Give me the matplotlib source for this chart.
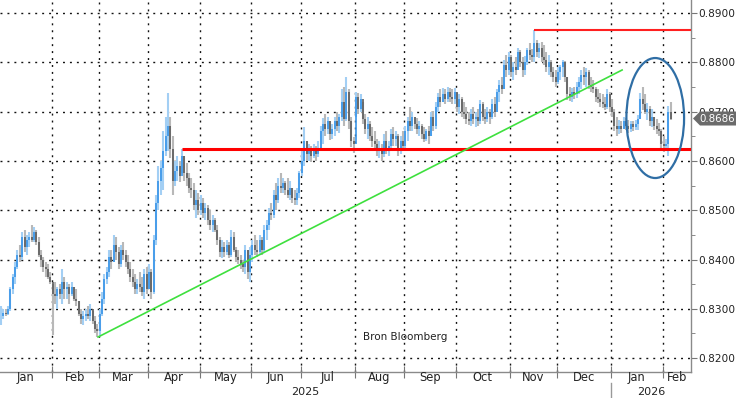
import numpy as np
import matplotlib
matplotlib.use("Agg")
import matplotlib.pyplot as plt
from matplotlib.patches import Ellipse, Polygon
from matplotlib.transforms import blended_transform_factory

# ---------------- data (daily bars) ----------------
month_labels = ["Jan", "Feb", "Mar", "Apr", "May", "Jun", "Jul", "Aug",
                "Sep", "Oct", "Nov", "Dec", "Jan", "Feb"]
year_labels = ["2025", "2026"]

high_by_month = [
    [.8305,.8300,.8300,.8305,.8345,.8370,.8395,.8420,.8430,.8455,.8460,.8450,.8455,.8470,.8465,.8460,.8445,.8420,.8405,.8395,.8390,.8375],
    [.8350,.8355,.8345,.8350,.8380,.8365,.8355,.8350,.8355,.8345,.8340,.8315,.8300,.8295,.8300,.8305,.8310,.8295,.8285,.8270],
    [.8300,.8335,.8370,.8385,.8420,.8420,.8450,.8445,.8425,.8430,.8435,.8420,.8410,.8395,.8380,.8370,.8360,.8375,.8365,.8380,.8385],
    [.8390,.8380,.8450,.8530,.8590,.8600,.8660,.8690,.8738,.8690,.8650,.8600,.8610,.8600,.8625,.8610,.8595,.8575,.8565,.8555,.8540,.8535],
    [.8530,.8525,.8515,.8510,.8500,.8490,.8485,.8470,.8445,.8440,.8435,.8440,.8435,.8460,.8455,.8425,.8420,.8410,.8400,.8430,.8420,.8425],
    [.8440,.8450,.8440,.8450,.8445,.8470,.8480,.8505,.8515,.8540,.8555,.8565,.8575,.8565,.8560,.8565,.8560,.8545,.8540,.8545,.8580],
    [.8620,.8668,.8640,.8635,.8630,.8635,.8630,.8640,.8670,.8688,.8695,.8690,.8680,.8675,.8690,.8700,.8695,.8745,.8750,.8770,.8745,.8690,.8648],
    [.8740,.8738,.8735,.8720,.8695,.8690,.8680,.8668,.8660,.8645,.8640,.8635,.8655,.8660,.8640,.8665,.8668,.8660,.8655,.8650,.8660],
    [.8670,.8690,.8710,.8700,.8690,.8687,.8680,.8675,.8668,.8665,.8670,.8700,.8702,.8720,.8737,.8745,.8748,.8745,.8750,.8748,.8745,.8748],
    [.8737,.8735,.8730,.8720,.8710,.8700,.8705,.8710,.8700,.8705,.8724,.8720,.8705,.8710,.8705,.8725,.8730,.8745,.8765,.8770,.8805,.8815,.8820],
    [.8815,.8800,.8810,.8830,.8825,.8810,.8812,.8830,.8840,.8828,.8866,.8845,.8840,.8842,.8835,.8820,.8815,.8805,.8790,.8785],
    [.8790,.8795,.8805,.8802,.8770,.8750,.8748,.8750,.8760,.8770,.8785,.8790,.8788,.8785,.8770,.8765,.8750,.8745,.8737,.8735,.8730,.8745,.8740],
    [.8725,.8705,.8690,.8683,.8680,.8690,.8688,.8683,.8680,.8680,.8682,.8693,.8737,.8750,.8735,.8717,.8712,.8705,.8690,.8685,.8677,.8665],
    [.8650,.8645,.8712,.8720],
]
low_by_month = [
    [.8268,.8280,.8285,.8288,.8295,.8330,.8350,.8380,.8395,.8400,.8415,.8410,.8425,.8435,.8435,.8430,.8405,.8385,.8375,.8365,.8360,.8350],
    [.8247,.8310,.8300,.8320,.8310,.8320,.8320,.8310,.8325,.8315,.8305,.8285,.8270,.8268,.8275,.8280,.8275,.8270,.8250,.8243],
    [.8245,.8285,.8310,.8350,.8365,.8380,.8395,.8400,.8380,.8385,.8400,.8385,.8370,.8355,.8345,.8330,.8330,.8335,.8325,.8320,.8330],
    [.8340,.8320,.8330,.8430,.8500,.8530,.8540,.8610,.8620,.8605,.8530,.8550,.8560,.8557,.8575,.8560,.8550,.8535,.8525,.8500,.8485,.8490],
    [.8490,.8485,.8480,.8470,.8460,.8455,.8455,.8430,.8405,.8403,.8405,.8410,.8403,.8405,.8415,.8395,.8390,.8380,.8375,.8370,.8360,.8355],
    [.8395,.8410,.8405,.8410,.8410,.8415,.8440,.8460,.8480,.8485,.8500,.8515,.8535,.8535,.8530,.8525,.8520,.8515,.8510,.8510,.8525],
    [.8570,.8590,.8600,.8600,.8598,.8605,.8600,.8608,.8620,.8635,.8650,.8655,.8642,.8645,.8650,.8660,.8657,.8680,.8670,.8680,.8665,.8628,.8616],
    [.8690,.8695,.8700,.8675,.8655,.8645,.8640,.8628,.8620,.8610,.8605,.8600,.8608,.8615,.8610,.8625,.8630,.8630,.8610,.8615,.8620],
    [.8625,.8640,.8660,.8660,.8665,.8655,.8650,.8645,.8638,.8640,.8635,.8650,.8660,.8665,.8700,.8710,.8720,.8715,.8720,.8720,.8715,.8715],
    [.8700,.8695,.8690,.8685,.8675,.8672,.8670,.8675,.8668,.8670,.8675,.8680,.8675,.8678,.8675,.8685,.8690,.8700,.8720,.8735,.8745,.8770,.8775],
    [.8770,.8765,.8775,.8785,.8790,.8770,.8775,.8795,.8805,.8800,.8800,.8810,.8808,.8800,.8795,.8780,.8775,.8770,.8760,.8750],
    [.8757,.8765,.8770,.8760,.8723,.8722,.8720,.8725,.8728,.8735,.8745,.8755,.8750,.8745,.8740,.8737,.8720,.8717,.8710,.8708,.8703,.8705,.8700],
    [.8690,.8660,.8650,.8655,.8657,.8665,.8662,.8657,.8658,.8660,.8662,.8662,.8685,.8703,.8695,.8683,.8670,.8668,.8662,.8655,.8650,.8625],
    [.8618,.8620,.8610,.8683],
]
close_by_month = [
    [.8285,.8292,.8290,.8300,.8340,.8365,.8385,.8410,.8405,.8445,.8425,.8440,.8445,.8440,.8455,.8435,.8410,.8400,.8385,.8380,.8365,.8355],
    [.8330,.8325,.8340,.8330,.8355,.8340,.8345,.8330,.8345,.8320,.8315,.8290,.8280,.8285,.8290,.8285,.8300,.8275,.8260,.8255],
    [.8290,.8320,.8360,.8375,.8405,.8395,.8430,.8415,.8390,.8420,.8410,.8395,.8380,.8365,.8355,.8340,.8350,.8345,.8335,.8370,.8340],
    [.8375,.8335,.8440,.8515,.8560,.8585,.8620,.8650,.8670,.8625,.8560,.8580,.8590,.8570,.8610,.8575,.8565,.8545,.8540,.8510,.8520,.8500],
    [.8515,.8495,.8505,.8480,.8470,.8480,.8460,.8440,.8415,.8425,.8415,.8430,.8410,.8445,.8420,.8405,.8400,.8390,.8385,.8420,.8375,.8410],
    [.8430,.8420,.8415,.8440,.8420,.8460,.8470,.8495,.8490,.8530,.8520,.8550,.8545,.8555,.8540,.8530,.8545,.8525,.8520,.8535,.8575],
    [.8600,.8640,.8615,.8620,.8610,.8625,.8615,.8620,.8660,.8675,.8665,.8680,.8655,.8665,.8680,.8670,.8690,.8720,.8685,.8740,.8680,.8640,.8635],
    [.8730,.8705,.8725,.8685,.8665,.8675,.8650,.8640,.8635,.8620,.8625,.8615,.8640,.8625,.8630,.8655,.8645,.8650,.8620,.8640,.8630],
    [.8660,.8680,.8670,.8690,.8675,.8665,.8670,.8655,.8645,.8660,.8650,.8690,.8670,.8710,.8730,.8720,.8735,.8725,.8740,.8730,.8725,.8740],
    [.8710,.8725,.8700,.8695,.8685,.8680,.8695,.8685,.8690,.8680,.8715,.8690,.8685,.8700,.8690,.8715,.8700,.8740,.8755,.8745,.8795,.8785,.8810],
    [.8780,.8790,.8785,.8820,.8800,.8785,.8800,.8825,.8815,.8810,.8840,.8820,.8830,.8810,.8805,.8790,.8800,.8780,.8770,.8760],
    [.8780,.8790,.8800,.8770,.8735,.8730,.8740,.8735,.8750,.8760,.8775,.8770,.8780,.8755,.8750,.8745,.8730,.8725,.8720,.8715,.8710,.8735,.8710],
    [.8700,.8670,.8665,.8670,.8665,.8680,.8670,.8665,.8675,.8668,.8675,.8685,.8725,.8715,.8700,.8705,.8680,.8690,.8670,.8665,.8660,.8635],
    [.8630,.8635,.8700,.8686],
]

last_price = 0.8686
support_level = 0.8625
resistance_level = 0.88655
trend_start = (41.3, 0.82428)
trend_end = (264.3, 0.87844)
source_text = "Bron Bloomberg"

# ---------------- assemble ----------------
high, low, close, month_start = [], [], [], []
for h, l, c in zip(high_by_month, low_by_month, close_by_month):
    n = min(len(h), len(l), len(c))
    month_start.append(len(close))
    high += h[:n]; low += l[:n]; close += c[:n]
high = np.array(high); low = np.array(low); close = np.array(close)
n = len(close)
x = np.arange(n)
open_ = np.concatenate([[close[0]], close[:-1]])
up = close >= open_

# ---------------- figure ----------------
W, H = 736, 398
fig = plt.figure(figsize=(W / 100, H / 100), dpi=100)
ax_bottom_px = 372
ax_right_px = 691
ax = fig.add_axes([0, 1 - ax_bottom_px / H, ax_right_px / W, ax_bottom_px / H])

px_per_bar = 2.35
xmin = -1 / px_per_bar
xmax = xmin + ax_right_px / px_per_bar
ymax = 0.89264
ymin = ymax - ax_bottom_px / 4930
ax.set_xlim(xmin, xmax)
ax.set_ylim(ymin, ymax)

dot = (0, (1.4, 3.6))
bounds = [s - 0.5 for s in month_start[1:]]
for yv in np.arange(0.82, 0.8901, 0.01):
    ax.axhline(yv, color="#111111", lw=1.0, ls=dot, zorder=0.5)
for b in bounds:
    ax.axvline(b, color="#111111", lw=1.0, ls=dot, zorder=0.5)

# candles
for mask, wick_c, body_c in [(up, "#a3cff4", "#3995e8"), (~up, "#b8b8b8", "#5c5c5c")]:
    ax.vlines(x[mask], low[mask], high[mask], color=wick_c, lw=1.5, zorder=2)
    ax.vlines(x[mask], np.minimum(open_, close)[mask], np.maximum(open_, close)[mask],
              color=body_c, lw=1.2, zorder=2.1)

# annotation lines
ax.hlines(support_level, 77, xmax, color="#ff0000", lw=2.2, zorder=3)
ax.hlines(resistance_level, 227, xmax, color="#ff2020", lw=1.5, zorder=3)
ax.plot([trend_start[0], trend_end[0]], [trend_start[1], trend_end[1]],
        color="#3ee03e", lw=1.2, zorder=3)
ax.add_patch(Ellipse((278.4, 0.8687), 24.55, 0.02434, fill=False,
                     ec="#2f6ea5", lw=1.6, zorder=4))

ax.text(171.9, 0.8243, source_text, ha="center", va="center",
        fontsize=7.5, color="#222222", zorder=5)

# spines
for s in ["left", "top"]:
    ax.spines[s].set_visible(False)
for s in ["right", "bottom"]:
    ax.spines[s].set_color("#8a8a8a")
    ax.spines[s].set_linewidth(1.0)

# y axis (right)
ax.yaxis.tick_right()
ax.set_yticks(np.arange(0.82, 0.8901, 0.01))
ax.set_yticks(np.arange(0.825, 0.8901, 0.01), minor=True)
ax.set_yticklabels([f"{v:.4f}" for v in np.arange(0.82, 0.8901, 0.01)])
ax.tick_params(axis="y", which="major", length=4, color="#777777", labelsize=7.6,
               labelcolor="#222222", pad=1.5)
ax.tick_params(axis="y", which="minor", length=3, color="#777777")

# x axis
ax.set_xticks(bounds)
ax.tick_params(axis="x", direction="inout", length=8, color="#777777",
               labelbottom=False)
tr = blended_transform_factory(ax.transData, ax.transAxes)
edges = [xmin] + bounds + [xmax]
month_font = ["Liberation Sans Narrow", "DejaVu Sans"]
for i, lab in enumerate(month_labels):
    cx = (max(edges[i], xmin) + min(edges[i + 1], xmax)) / 2
    ax.text(cx, -0.016, lab, transform=tr, ha="center", va="center",
            fontsize=8.3, family=month_font, color="#222222", clip_on=False)
year_split = bounds[11]
for lab, cx in [(year_labels[0], (xmin + year_split) / 2),
                (year_labels[1], (year_split + xmax) / 2)]:
    ax.text(cx, -0.054, lab, transform=tr, ha="center", va="center",
            fontsize=8.0, family=month_font, color="#222222", clip_on=False)
ax.plot([year_split, year_split], [-0.03, -0.075], transform=tr, color="#999999",
        lw=1, clip_on=False)

# last price tag
ftr = blended_transform_factory(fig.transFigure, ax.transData)
hh = 7 / 4930
pts = [(693 / W, last_price), (700 / W, last_price + hh), (1.0, last_price + hh),
       (1.0, last_price - hh), (700 / W, last_price - hh)]
tag = Polygon(pts, closed=True, transform=ftr, fc="#6b6b6b", ec="none", zorder=5)
fig.add_artist(tag)
fig.text(717 / W, last_price, f"{last_price:.4f}", transform=ftr, ha="center",
         va="center", fontsize=7.4, color="white", zorder=6)

fig.savefig("out.png", dpi=100)
